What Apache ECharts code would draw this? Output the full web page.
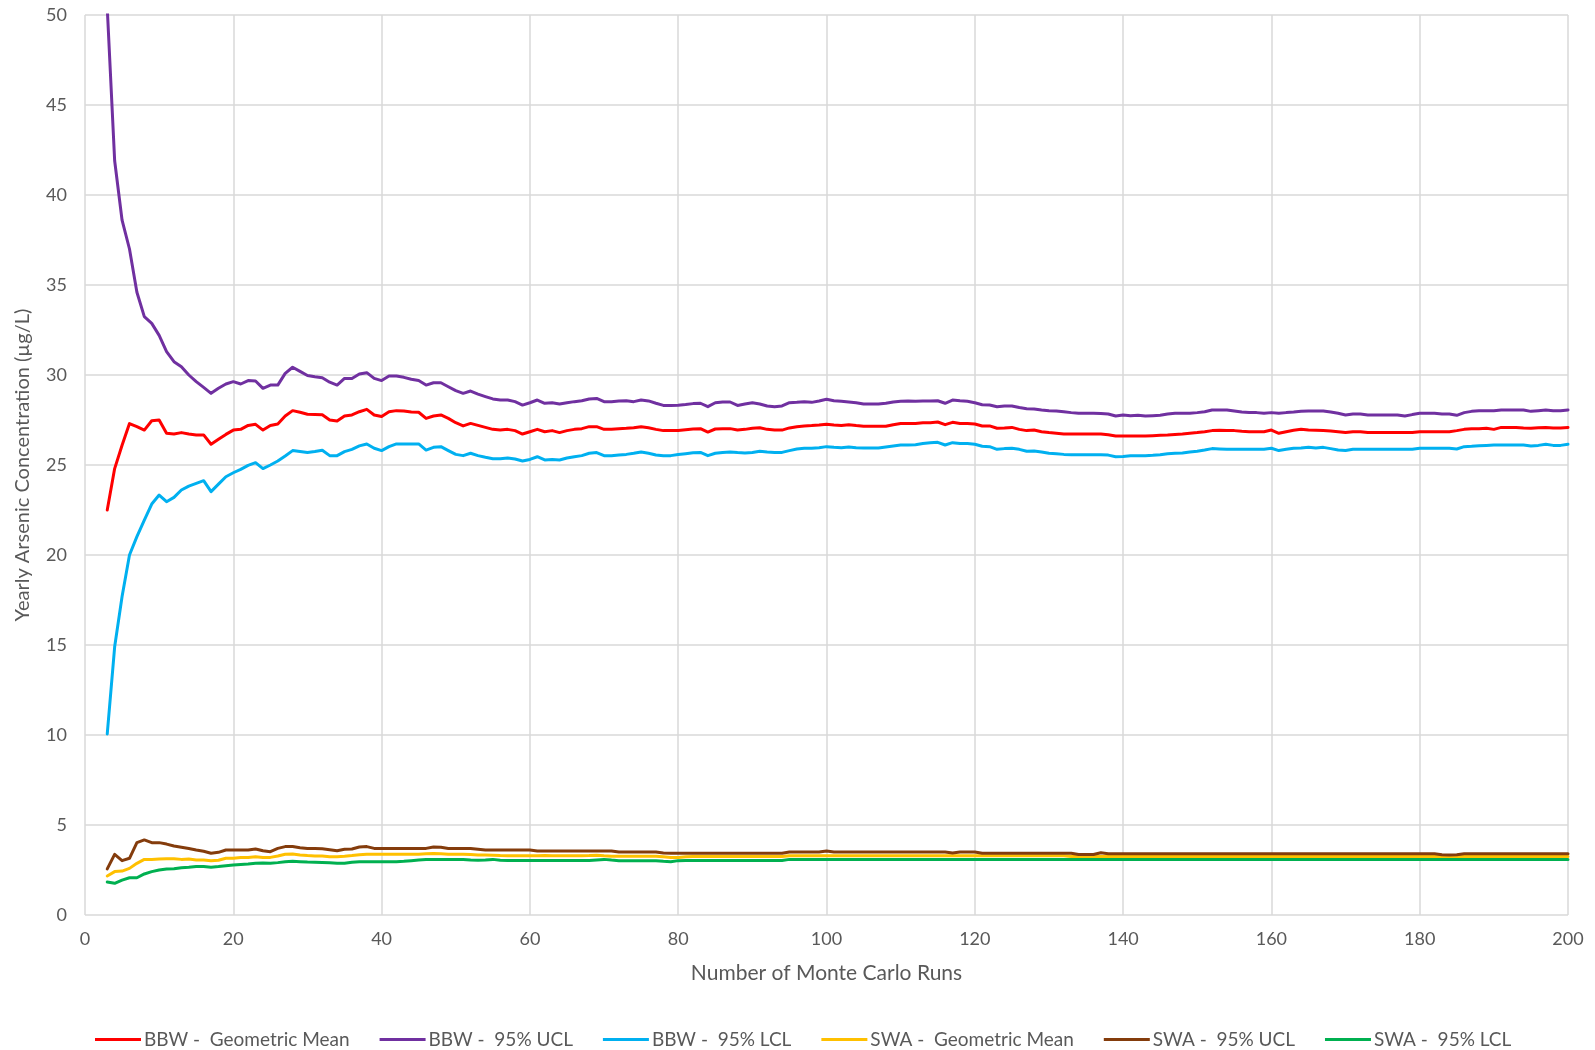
<!DOCTYPE html>
<html>
<head>
<meta charset="utf-8">
<title>Yearly Arsenic Concentration vs Monte Carlo Runs</title>
<script src="https://cdn.jsdelivr.net/npm/echarts@6/dist/echarts.min.js"></script>
<style>
  html, body { margin: 0; padding: 0; background: #ffffff; }
  #chart { width: 1595px; height: 1050px; }
</style>
</head>
<body>
<div id="chart"></div>
<script>
// Number of Monte Carlo runs (x values), one point per run count from 3 to 200
const FIRST_RUN = 3;
const LAST_RUN = 200;
const runs = [];
for (let r = FIRST_RUN; r <= LAST_RUN; r++) runs.push(r);

// Axis ranges and tick steps
const xTicks = { min: 0, max: 200, step: 20 };
const yTicks = { min: 0, max: 50, step: 5 };

const xTitle = 'Number of Monte Carlo Runs';
const yTitle = 'Yearly Arsenic Concentration (µg/L)';

const seriesNames = [
  'BBW -  Geometric Mean',
  'BBW -  95% UCL',
  'BBW -  95% LCL',
  'SWA -  Geometric Mean',
  'SWA -  95% UCL',
  'SWA -  95% LCL'
];

// BBW geometric mean (µg/L), runs 3..200
const bbwMean = [
  22.5, 24.8, 26.1, 27.3, 27.13, 26.94, 27.46, 27.5, 26.76, 26.72,
  26.8, 26.72, 26.67, 26.67, 26.15, 26.43, 26.7, 26.94, 26.98, 27.2,
  27.26, 26.94, 27.19, 27.28, 27.72, 28.02, 27.93, 27.82, 27.81, 27.79,
  27.5, 27.44, 27.72, 27.78, 27.96, 28.09, 27.78, 27.69, 27.96, 28.02,
  28.0, 27.94, 27.93, 27.59, 27.72, 27.78, 27.59, 27.35, 27.17, 27.31,
  27.2, 27.09, 26.98, 26.94, 26.98, 26.91, 26.72, 26.85, 26.98, 26.85,
  26.91, 26.8, 26.91, 26.98, 27.02, 27.13, 27.13, 26.98, 26.98, 27.02,
  27.04, 27.07, 27.13, 27.07, 26.98, 26.91, 26.91, 26.92, 26.96, 27.0,
  27.02, 26.83, 27.0, 27.02, 27.02, 26.94, 26.98, 27.04, 27.07, 26.98,
  26.94, 26.94, 27.06, 27.13, 27.17, 27.19, 27.22, 27.26, 27.22, 27.2,
  27.24, 27.19, 27.15, 27.15, 27.15, 27.15, 27.24, 27.3, 27.31, 27.31,
  27.35, 27.35, 27.39, 27.24, 27.37, 27.31, 27.31, 27.28, 27.17, 27.17,
  27.04, 27.06, 27.09, 26.98, 26.91, 26.94, 26.85, 26.8, 26.76, 26.72,
  26.72, 26.72, 26.72, 26.72, 26.72, 26.68, 26.61, 26.61, 26.61, 26.61,
  26.61, 26.63, 26.65, 26.67, 26.7, 26.72, 26.76, 26.8, 26.85, 26.91,
  26.93, 26.91, 26.91, 26.87, 26.85, 26.85, 26.85, 26.94, 26.76, 26.85,
  26.93, 26.98, 26.94, 26.93, 26.91, 26.89, 26.85, 26.8, 26.85, 26.85,
  26.8, 26.8, 26.8, 26.8, 26.8, 26.8, 26.8, 26.85, 26.85, 26.85,
  26.85, 26.85, 26.91, 26.98, 27.02, 27.02, 27.04, 26.98, 27.09, 27.09,
  27.09, 27.06, 27.04, 27.07, 27.09, 27.06, 27.06, 27.09
];

// BBW 95% upper confidence limit (µg/L)
const bbwUcl = [
  50.4, 41.9, 38.6, 37.0, 34.6, 33.24, 32.87, 32.2, 31.3, 30.74,
  30.46, 30.0, 29.63, 29.31, 28.98, 29.26, 29.5, 29.63, 29.5, 29.69,
  29.67, 29.26, 29.44, 29.44, 30.09, 30.43, 30.2, 29.97, 29.9, 29.85,
  29.6, 29.44, 29.81, 29.81, 30.06, 30.13, 29.81, 29.69, 29.94, 29.94,
  29.87, 29.76, 29.69, 29.44, 29.57, 29.57, 29.35, 29.13, 28.98, 29.11,
  28.94, 28.8, 28.67, 28.61, 28.61, 28.52, 28.33, 28.46, 28.61, 28.43,
  28.46, 28.39, 28.46, 28.52, 28.57, 28.67, 28.7, 28.52, 28.52, 28.56,
  28.57, 28.52, 28.61, 28.56, 28.43, 28.31, 28.31, 28.32, 28.36, 28.41,
  28.43, 28.24, 28.46, 28.5, 28.5, 28.31, 28.39, 28.46, 28.39, 28.28,
  28.24, 28.28, 28.46, 28.48, 28.52, 28.48, 28.56, 28.65, 28.57, 28.54,
  28.5, 28.46, 28.39, 28.39, 28.39, 28.43, 28.5, 28.54, 28.56, 28.54,
  28.56, 28.56, 28.57, 28.43, 28.61, 28.57, 28.54, 28.46, 28.35, 28.33,
  28.24, 28.28, 28.28, 28.19, 28.13, 28.11, 28.06, 28.02, 28.0, 27.96,
  27.91, 27.87, 27.87, 27.87, 27.86, 27.83, 27.72, 27.78, 27.73, 27.76,
  27.72, 27.74, 27.76, 27.83, 27.87, 27.87, 27.87, 27.91, 27.96, 28.06,
  28.06, 28.06, 28.0, 27.94, 27.91, 27.91, 27.87, 27.91, 27.87, 27.91,
  27.94, 27.98, 28.0, 28.0, 28.0, 27.94, 27.87, 27.78, 27.83, 27.83,
  27.78, 27.78, 27.78, 27.78, 27.78, 27.72, 27.8, 27.87, 27.87, 27.87,
  27.83, 27.83, 27.76, 27.91, 27.98, 28.02, 28.02, 28.02, 28.06, 28.06,
  28.06, 28.06, 27.98, 28.02, 28.06, 28.02, 28.02, 28.06
];

// BBW 95% lower confidence limit (µg/L)
const bbwLcl = [
  10.06, 14.9, 17.69, 20.0, 21.02, 21.94, 22.83, 23.33, 22.96, 23.2,
  23.61, 23.83, 23.98, 24.13, 23.52, 23.94, 24.35, 24.57, 24.76, 24.98,
  25.13, 24.8, 25.0, 25.22, 25.5, 25.8, 25.75, 25.7, 25.75, 25.82,
  25.52, 25.52, 25.74, 25.87, 26.06, 26.17, 25.93, 25.8, 26.02, 26.17,
  26.17, 26.17, 26.17, 25.83, 25.98, 26.02, 25.8, 25.59, 25.52, 25.65,
  25.52, 25.43, 25.35, 25.35, 25.39, 25.33, 25.22, 25.31, 25.46, 25.28,
  25.31, 25.28, 25.39, 25.46, 25.52, 25.65, 25.69, 25.52, 25.52, 25.56,
  25.59, 25.65, 25.72, 25.65, 25.56, 25.52, 25.52, 25.58, 25.63, 25.68,
  25.7, 25.52, 25.65, 25.7, 25.72, 25.69, 25.67, 25.7, 25.76, 25.72,
  25.7, 25.7, 25.8, 25.89, 25.93, 25.93, 25.96, 26.02, 25.98, 25.96,
  26.0, 25.96, 25.94, 25.94, 25.94, 26.0, 26.06, 26.11, 26.11, 26.13,
  26.19, 26.24, 26.26, 26.11, 26.24, 26.19, 26.19, 26.15, 26.04, 26.02,
  25.87, 25.91, 25.93, 25.87, 25.76, 25.78, 25.72, 25.65, 25.63, 25.59,
  25.57, 25.57, 25.57, 25.57, 25.57, 25.55, 25.46, 25.47, 25.52, 25.52,
  25.52, 25.54, 25.57, 25.63, 25.65, 25.67, 25.72, 25.76, 25.83, 25.91,
  25.89, 25.87, 25.87, 25.87, 25.87, 25.87, 25.87, 25.93, 25.8, 25.87,
  25.93, 25.94, 25.98, 25.94, 25.98, 25.91, 25.83, 25.8, 25.87, 25.87,
  25.87, 25.87, 25.87, 25.87, 25.87, 25.87, 25.87, 25.93, 25.93, 25.93,
  25.93, 25.93, 25.89, 26.02, 26.04, 26.07, 26.09, 26.11, 26.11, 26.11,
  26.11, 26.11, 26.06, 26.09, 26.15, 26.09, 26.09, 26.15
];

// SWA geometric mean (µg/L)
const swaMean = [
  2.17, 2.41, 2.44, 2.59, 2.87, 3.09, 3.09, 3.11, 3.13, 3.13,
  3.09, 3.11, 3.06, 3.06, 3.02, 3.04, 3.15, 3.15, 3.19, 3.2,
  3.24, 3.2, 3.2, 3.28, 3.37, 3.39, 3.33, 3.3, 3.28, 3.28,
  3.24, 3.24, 3.26, 3.3, 3.35, 3.37, 3.37, 3.37, 3.37, 3.37,
  3.37, 3.37, 3.38, 3.4, 3.42, 3.4, 3.38, 3.37, 3.37, 3.36,
  3.34, 3.33, 3.32, 3.3, 3.29, 3.29, 3.29, 3.29, 3.29, 3.3,
  3.29, 3.29, 3.29, 3.29, 3.29, 3.3, 3.32, 3.29, 3.27, 3.27,
  3.27, 3.27, 3.27, 3.27, 3.26, 3.24, 3.2, 3.2, 3.24, 3.25,
  3.25, 3.25, 3.25, 3.25, 3.25, 3.25, 3.25, 3.25, 3.25, 3.25,
  3.25, 3.25, 3.29, 3.29, 3.29, 3.29, 3.29, 3.29, 3.29, 3.29,
  3.29, 3.29, 3.29, 3.29, 3.29, 3.29, 3.29, 3.29, 3.29, 3.29,
  3.29, 3.29, 3.29, 3.29, 3.29, 3.29, 3.29, 3.29, 3.29, 3.29,
  3.29, 3.29, 3.29, 3.29, 3.29, 3.29, 3.29, 3.29, 3.29, 3.29,
  3.25, 3.25, 3.25, 3.25, 3.25, 3.25, 3.25, 3.25, 3.25, 3.25,
  3.25, 3.25, 3.25, 3.25, 3.25, 3.25, 3.25, 3.25, 3.25, 3.25,
  3.25, 3.25, 3.25, 3.25, 3.25, 3.25, 3.25, 3.25, 3.25, 3.25,
  3.25, 3.25, 3.25, 3.25, 3.25, 3.25, 3.25, 3.25, 3.25, 3.25,
  3.25, 3.25, 3.25, 3.25, 3.25, 3.25, 3.25, 3.25, 3.25, 3.25,
  3.25, 3.25, 3.25, 3.25, 3.25, 3.25, 3.25, 3.25, 3.25, 3.25,
  3.25, 3.25, 3.25, 3.25, 3.25, 3.25, 3.25, 3.25
];

// SWA 95% upper confidence limit (µg/L)
const swaUcl = [
  2.56, 3.37, 3.02, 3.15, 4.02, 4.17, 4.02, 4.02, 3.94, 3.83,
  3.76, 3.69, 3.61, 3.54, 3.43, 3.48, 3.61, 3.61, 3.61, 3.61,
  3.67, 3.57, 3.52, 3.7, 3.8, 3.8, 3.74, 3.7, 3.7, 3.68,
  3.63, 3.57, 3.65, 3.67, 3.78, 3.8, 3.7, 3.7, 3.7, 3.7,
  3.7, 3.7, 3.7, 3.7, 3.78, 3.76, 3.7, 3.7, 3.7, 3.69,
  3.65, 3.61, 3.61, 3.61, 3.61, 3.61, 3.61, 3.61, 3.56, 3.56,
  3.56, 3.56, 3.56, 3.56, 3.56, 3.56, 3.56, 3.56, 3.56, 3.5,
  3.5, 3.5, 3.5, 3.5, 3.5, 3.45, 3.43, 3.43, 3.43, 3.43,
  3.43, 3.43, 3.43, 3.43, 3.43, 3.43, 3.43, 3.43, 3.43, 3.43,
  3.43, 3.43, 3.5, 3.5, 3.5, 3.5, 3.5, 3.56, 3.5, 3.5,
  3.5, 3.5, 3.5, 3.5, 3.5, 3.5, 3.5, 3.5, 3.5, 3.5,
  3.5, 3.5, 3.5, 3.5, 3.45, 3.5, 3.5, 3.5, 3.43, 3.43,
  3.43, 3.43, 3.43, 3.43, 3.43, 3.43, 3.43, 3.43, 3.43, 3.43,
  3.43, 3.36, 3.36, 3.36, 3.46, 3.4, 3.4, 3.4, 3.4, 3.4,
  3.4, 3.4, 3.4, 3.4, 3.4, 3.4, 3.4, 3.4, 3.4, 3.4,
  3.4, 3.4, 3.4, 3.4, 3.4, 3.4, 3.4, 3.4, 3.4, 3.4,
  3.4, 3.4, 3.4, 3.4, 3.4, 3.4, 3.4, 3.4, 3.4, 3.4,
  3.4, 3.4, 3.4, 3.4, 3.4, 3.4, 3.4, 3.4, 3.4, 3.4,
  3.35, 3.33, 3.35, 3.4, 3.4, 3.4, 3.4, 3.4, 3.4, 3.4,
  3.4, 3.4, 3.4, 3.4, 3.4, 3.4, 3.4, 3.4
];

// SWA 95% lower confidence limit (µg/L)
const swaLcl = [
  1.83, 1.76, 1.94, 2.07, 2.07, 2.28, 2.41, 2.5, 2.56, 2.57,
  2.63, 2.65, 2.69, 2.69, 2.65, 2.69, 2.74, 2.78, 2.81, 2.83,
  2.87, 2.89, 2.87, 2.91, 2.96, 2.98, 2.96, 2.94, 2.93, 2.92,
  2.9, 2.87, 2.88, 2.93, 2.96, 2.96, 2.96, 2.96, 2.96, 2.96,
  2.98, 3.02, 3.06, 3.09, 3.09, 3.09, 3.09, 3.09, 3.09, 3.06,
  3.04, 3.06, 3.09, 3.04, 3.03, 3.03, 3.03, 3.03, 3.03, 3.03,
  3.03, 3.03, 3.03, 3.03, 3.03, 3.03, 3.06, 3.09, 3.05, 3.02,
  3.02, 3.02, 3.02, 3.02, 3.02, 2.98, 2.96, 3.02, 3.03, 3.03,
  3.03, 3.03, 3.03, 3.03, 3.03, 3.03, 3.03, 3.03, 3.03, 3.03,
  3.03, 3.03, 3.09, 3.09, 3.09, 3.09, 3.09, 3.09, 3.09, 3.09,
  3.09, 3.09, 3.09, 3.09, 3.09, 3.09, 3.09, 3.09, 3.09, 3.09,
  3.09, 3.09, 3.09, 3.09, 3.09, 3.09, 3.09, 3.09, 3.09, 3.09,
  3.09, 3.09, 3.09, 3.09, 3.09, 3.09, 3.09, 3.09, 3.09, 3.09,
  3.09, 3.09, 3.09, 3.09, 3.09, 3.09, 3.09, 3.09, 3.09, 3.09,
  3.09, 3.09, 3.09, 3.09, 3.09, 3.09, 3.09, 3.09, 3.09, 3.09,
  3.09, 3.09, 3.09, 3.09, 3.09, 3.09, 3.09, 3.09, 3.09, 3.09,
  3.09, 3.09, 3.09, 3.09, 3.09, 3.09, 3.09, 3.09, 3.09, 3.09,
  3.09, 3.09, 3.09, 3.09, 3.09, 3.09, 3.09, 3.09, 3.09, 3.09,
  3.09, 3.09, 3.09, 3.09, 3.09, 3.09, 3.09, 3.09, 3.09, 3.09,
  3.09, 3.09, 3.09, 3.09, 3.09, 3.09, 3.09, 3.09
];

const seriesValues = [bbwMean, bbwUcl, bbwLcl, swaMean, swaUcl, swaLcl];
const seriesColors = ['#FF0000', '#7030A0', '#00B0F0', '#FFC000', '#843C0C', '#00B050'];

const FONT = 'Lato, "Open Sans", sans-serif';
const TEXT_COLOR = '#595959';
const GRID_COLOR = '#d9d9d9';

const chart = echarts.init(document.getElementById('chart'), null, { renderer: 'canvas' });

const series = seriesNames.map((name, i) => ({
  name: name,
  type: 'line',
  data: runs.map((r, k) => [r, seriesValues[i][k]]),
  symbol: 'none',
  showSymbol: false,
  smooth: false,
  clip: true,
  color: seriesColors[i],
  lineStyle: { width: 3, color: seriesColors[i], cap: 'round', join: 'round' },
  emphasis: { disabled: true }
}));

chart.setOption({
  animation: false,
  backgroundColor: '#ffffff',
  textStyle: { fontFamily: FONT },
  grid: { left: 85, right: 27, top: 15, bottom: 135, containLabel: false },
  xAxis: {
    type: 'value',
    min: xTicks.min,
    max: xTicks.max,
    interval: xTicks.step,
    name: xTitle,
    nameLocation: 'middle',
    nameGap: 48,
    nameTextStyle: { color: TEXT_COLOR, fontSize: 21, fontFamily: FONT },
    axisLine: { show: false },
    axisTick: { show: false },
    axisLabel: { color: TEXT_COLOR, fontSize: 18, margin: 15, fontFamily: FONT },
    splitLine: { show: true, lineStyle: { color: GRID_COLOR, width: 1.5 } }
  },
  yAxis: {
    type: 'value',
    min: yTicks.min,
    max: yTicks.max,
    interval: yTicks.step,
    name: yTitle,
    nameLocation: 'middle',
    nameRotate: 90,
    nameGap: 52,
    nameTextStyle: { color: TEXT_COLOR, fontSize: 20, fontFamily: FONT },
    axisLine: { show: false },
    axisTick: { show: false },
    axisLabel: { color: TEXT_COLOR, fontSize: 18, margin: 18, fontFamily: FONT },
    splitLine: { show: true, lineStyle: { color: GRID_COLOR, width: 1.5 } }
  },
  legend: {
    data: seriesNames,
    left: 90,
    top: 1025,
    itemWidth: 46,
    itemHeight: 3,
    itemGap: 30,
    icon: 'rect',
    textStyle: { color: TEXT_COLOR, fontSize: 19, fontFamily: FONT, padding: [0, 0, 0, -2] },
    selectedMode: false
  },
  series: series
});
</script>
</body>
</html>
